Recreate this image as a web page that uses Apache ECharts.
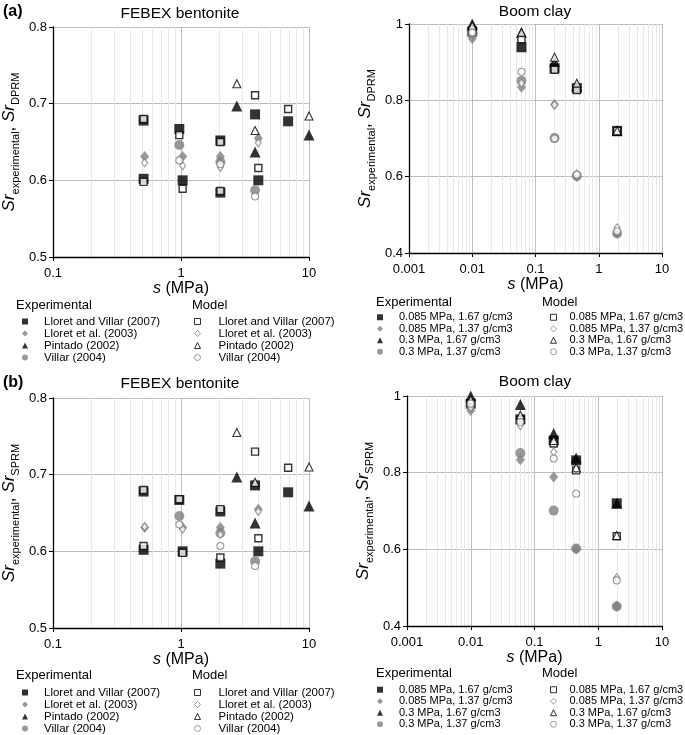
<!DOCTYPE html>
<html><head><meta charset="utf-8">
<script src="https://cdn.jsdelivr.net/npm/echarts@6/dist/echarts.min.js"></script>
<style>html,body{margin:0;padding:0;background:#fff}#c{width:685px;height:735px}</style>
</head><body><div id="c"></div>
<script>
const FONT = "'Liberation Sans', Arial, Helvetica, sans-serif";

// ---- categories / labels ----
const febexNames = ['Lloret and Villar (2007)', 'Lloret et al. (2003)', 'Pintado (2002)', 'Villar (2004)'];
const boomNames = ['0.085 MPa, 1.67 g/cm3', '0.085 MPa, 1.37 g/cm3', '0.3 MPa, 1.67 g/cm3', '0.3 MPa, 1.37 g/cm3'];

// ---- tick labels ----
const febexXTicks = [0.1, 1, 10];
const febexYTicks = [0.5, 0.6, 0.7, 0.8];
const boomXTicks = [0.001, 0.01, 0.1, 1, 10];
const boomYTicks = [0.4, 0.6, 0.8, 1];

// ---- FEBEX bentonite: experimental [s (MPa), Sr] ----
const febexExpLV = [[0.51,0.678],[0.51,0.602],[0.97,0.667],[1.03,0.600],[2.03,0.652],[2.03,0.584],[3.79,0.686],[4.02,0.600],[6.87,0.677]];
const febexExpLl = [[0.52,0.631],[1.03,0.631],[2.03,0.631],[4.02,0.655]];
const febexExpPi = [[2.73,0.697],[3.79,0.637],[10,0.659]];
const febexExpVi = [[0.97,0.646],[2.03,0.624],[3.79,0.587]];

// ---- FEBEX bentonite: model DPRM ----
const febexDprmLV = [[0.51,0.680],[0.51,0.598],[0.97,0.659],[1.03,0.589],[2.03,0.650],[2.03,0.586],[3.79,0.711],[4.02,0.616],[6.87,0.693]];
const febexDprmLl = [[0.52,0.623],[1.03,0.619],[2.03,0.617],[4.02,0.649]];
const febexDprmPi = [[2.73,0.726],[3.79,0.665],[10,0.684]];
const febexDprmVi = [[0.97,0.626],[2.03,0.621],[3.79,0.579]];

// ---- FEBEX bentonite: model SPRM ----
const febexSprmLV = [[0.51,0.680],[0.51,0.607],[0.97,0.668],[1.03,0.598],[2.03,0.655],[2.03,0.592],[3.79,0.730],[4.02,0.617],[6.87,0.709]];
const febexSprmLl = [[0.52,0.632],[1.03,0.629],[2.03,0.622],[4.02,0.652]];
const febexSprmPi = [[2.73,0.755],[3.79,0.690],[10,0.710]];
const febexSprmVi = [[0.97,0.635],[2.03,0.607],[3.79,0.581]];

// ---- Boom clay: suction values (MPa) ----
const boomS = [0.01, 0.06, 0.2, 0.45, 1.95];
// experimental Sr
const boomExp1 = [0.980, 0.939, 0.884, 0.832, 0.720];
const boomExp2 = [0.962, 0.834, 0.789, 0.600, 0.452];
const boomExp3 = [1.000, 0.978, 0.902, 0.838, 0.720];
const boomExp4 = [0.975, 0.851, 0.701, 0.602, 0.451];
// model DPRM
const boomDprm1 = [0.984, 0.960, 0.880, 0.827, 0.720];
const boomDprm2 = [0.975, 0.845, 0.788, 0.608, 0.466];
const boomDprm3 = [0.995, 0.978, 0.913, 0.845, 0.720];
const boomDprm4 = [0.978, 0.875, 0.700, 0.605, 0.457];
// model SPRM
const boomSprm1 = [0.980, 0.938, 0.876, 0.806, 0.634];
const boomSprm2 = [0.970, 0.923, 0.854, 0.810, 0.526];
const boomSprm3 = [0.990, 0.950, 0.884, 0.813, 0.636];
const boomSprm4 = [0.980, 0.932, 0.837, 0.745, 0.519];

// ---- marker styles ----
const GREY = '#7f7f7f';
const expStyles = [
  {symbol:'rect', symbolSize:10, itemStyle:{color:'#000'}},
  {symbol:'diamond', symbolSize:[9,11], itemStyle:{color:GREY}},
  {symbol:'triangle', symbolSize:11, itemStyle:{color:'#000'}},
  {symbol:'circle', symbolSize:10, itemStyle:{color:GREY}}
];
const modStyles = [
  {symbol:'rect', symbolSize:7, itemStyle:{color:'#fff', borderColor:'#000', borderWidth:1.4}},
  {symbol:'diamond', symbolSize:[6,8], itemStyle:{color:'#fff', borderColor:GREY, borderWidth:1.1}},
  {symbol:'triangle', symbolSize:8, itemStyle:{color:'#fff', borderColor:'#000', borderWidth:1.1}},
  {symbol:'circle', symbolSize:7, itemStyle:{color:'#fff', borderColor:GREY, borderWidth:1.1}}
];

const zip = (xs, ys) => xs.map((x, i) => [x, ys[i]]);

const panels = [
  {key:'aL', exp:[febexExpLV,febexExpLl,febexExpPi,febexExpVi], mod:[febexDprmLV,febexDprmLl,febexDprmPi,febexDprmVi], names:febexNames},
  {key:'aR', exp:[boomExp1,boomExp2,boomExp3,boomExp4].map(v=>zip(boomS,v)), mod:[boomDprm1,boomDprm2,boomDprm3,boomDprm4].map(v=>zip(boomS,v)), names:boomNames},
  {key:'bL', exp:[febexExpLV,febexExpLl,febexExpPi,febexExpVi], mod:[febexSprmLV,febexSprmLl,febexSprmPi,febexSprmVi], names:febexNames},
  {key:'bR', exp:[boomExp1,boomExp2,boomExp3,boomExp4].map(v=>zip(boomS,v)), mod:[boomSprm1,boomSprm2,boomSprm3,boomSprm4].map(v=>zip(boomS,v)), names:boomNames}
];

const grids = [
  {left:51, top:27, width:258, height:230},
  {left:409, top:24, width:253, height:229},
  {left:51, top:398, width:258, height:230},
  {left:407, top:396, width:255, height:230}
];

const yNames = [
  '{i|Sr}{s|experimental}{n|, }{i|Sr}{s|DPRM}',
  '{i|Sr}{s|experimental}{n|, }{i|Sr}{s|DPRM}',
  '{i|Sr}{s|experimental}{n|, }{i|Sr}{s|SPRM}',
  '{i|Sr}{s|experimental}{n|, }{i|Sr}{s|SPRM}'
];

const xTicksFor = i => (i % 2 === 0 ? febexXTicks : boomXTicks);
const yTicksFor = i => (i % 2 === 0 ? febexYTicks : boomYTicks);

const xAxes = grids.map((g, i) => {
  const t = xTicksFor(i);
  return {
    type:'log', logBase:10, gridIndex:i, min:t[0], max:t[t.length-1],
    axisLine:{show:true, onZero:false, lineStyle:{color:'#000', width:1.3}},
    axisTick:{show:true, length:4, lineStyle:{color:'#000'}},
    axisLabel:{fontSize:13, color:'#000', margin:10, fontFamily:FONT},
    splitLine:{show:true, lineStyle:{color:'#bdbdbd', width:1}},
    minorTick:{show:false, splitNumber:9},
    minorSplitLine:{show:true, lineStyle:{color:'#e8e8e8', width:1}},
    name:'{i|s} (MPa)', nameLocation:'middle', nameGap: i % 2 === 0 ? 23 : 24,
    nameTextStyle:{fontSize:16, color:'#000', fontFamily:FONT,
      rich:{i:{fontStyle:'italic', fontSize:16, fontFamily:FONT, color:'#000'}}}
  };
});

const yAxes = grids.map((g, i) => {
  const t = yTicksFor(i);
  return {
    type:'value', gridIndex:i, min:t[0], max:t[t.length-1],
    interval: Math.round((t[1]-t[0])*1000)/1000,
    axisLine:{show:true, onZero:false, lineStyle:{color:'#000', width:1.3}},
    axisTick:{show:true, length:4, lineStyle:{color:'#000'}},
    axisLabel:{fontSize:13, color:'#000', margin:6, fontFamily:FONT},
    splitLine:{show:true, lineStyle:{color:'#bdbdbd', width:1}},
    name: yNames[i], nameLocation:'middle', nameRotate:90, nameGap:32,
    nameTextStyle:{color:'#000', fontFamily:FONT,
      rich:{
        i:{fontStyle:'italic', fontSize:17, fontFamily:FONT, color:'#000', verticalAlign:'top', lineHeight:17},
        n:{fontSize:17, fontFamily:FONT, color:'#000', verticalAlign:'top', lineHeight:20},
        s:{fontSize:11, fontFamily:FONT, color:'#000', verticalAlign:'bottom', lineHeight:11}
      }}
  };
});

const series = [];
const legends = [];
const legendPos = [
  {exp:{left:22, top:315.5, pad:11, fs:11.5}, mod:{left:194, top:315.5, pad:13, fs:11.5}},
  {exp:{left:377, top:311.5, pad:11, fs:11}, mod:{left:550, top:311.5, pad:8, fs:11}},
  {exp:{left:22, top:686.5, pad:11, fs:11.5}, mod:{left:194, top:686.5, pad:13, fs:11.5}},
  {exp:{left:377, top:684, pad:11, fs:11}, mod:{left:550, top:684, pad:8, fs:11}}
];
panels.forEach((p, gi) => {
  const expNames = [], modNames = [];
  p.exp.forEach((d, k) => {
    const nm = p.key + '|E|' + p.names[k];
    expNames.push(nm);
    series.push(Object.assign({type:'scatter', name:nm, xAxisIndex:gi, yAxisIndex:gi, data:d, z:2}, expStyles[k]));
  });
  p.mod.forEach((d, k) => {
    const nm = p.key + '|M|' + p.names[k];
    modNames.push(nm);
    series.push(Object.assign({type:'scatter', name:nm, xAxisIndex:gi, yAxisIndex:gi, data:d, z:3}, modStyles[k]));
  });
  [['exp', expNames], ['mod', modNames]].forEach(([kind, names]) => {
    const pos = legendPos[gi][kind];
    legends.push({
      data: names, orient:'vertical', left:pos.left, top:pos.top, padding:0,
      itemWidth:6, itemHeight:6, itemGap:0, selectedMode:false,
      itemStyle:{borderWidth:1},
      formatter: n => n.split('|')[2],
      textStyle:{fontSize:pos.fs, lineHeight:11.5, color:'#000', fontFamily:FONT, padding:[0,0,0,pos.pad]}
    });
  });
});

const txt = (text, x, y, size, align, bold) => ({
  type:'text', silent:true,
  style:{text, x, y, textAlign:align, textVerticalAlign:'middle',
    font:(bold ? 'bold ' : '') + size + 'px ' + FONT, fill:'#000'}
});

const graphics = [
  txt('(a)', 3, 12, 16, 'left', true),
  txt('FEBEX bentonite', 180, 14, 15.5, 'center'),
  txt('Boom clay', 535, 12, 15.5, 'center'),
  txt('Experimental', 16, 305, 13, 'left'),
  txt('Model', 192, 305, 13, 'left'),
  txt('Experimental', 376, 302, 13, 'left'),
  txt('Model', 542, 302, 13, 'left'),
  txt('(b)', 3, 383, 16, 'left', true),
  txt('FEBEX bentonite', 180, 384, 15.5, 'center'),
  txt('Boom clay', 535, 382, 15.5, 'center'),
  txt('Experimental', 16, 675, 13, 'left'),
  txt('Model', 192, 675, 13, 'left'),
  txt('Experimental', 376, 673, 13, 'left'),
  txt('Model', 542, 673, 13, 'left')
];

const chart = echarts.init(document.getElementById('c'), null, {renderer:'canvas'});
chart.setOption({
  backgroundColor:'#fff',
  animation:false,
  textStyle:{fontFamily:FONT},
  grid: grids.map(g => Object.assign({containLabel:false}, g)),
  xAxis: xAxes,
  yAxis: yAxes,
  legend: legends,
  series,
  graphic: graphics
});
</script></body></html>
